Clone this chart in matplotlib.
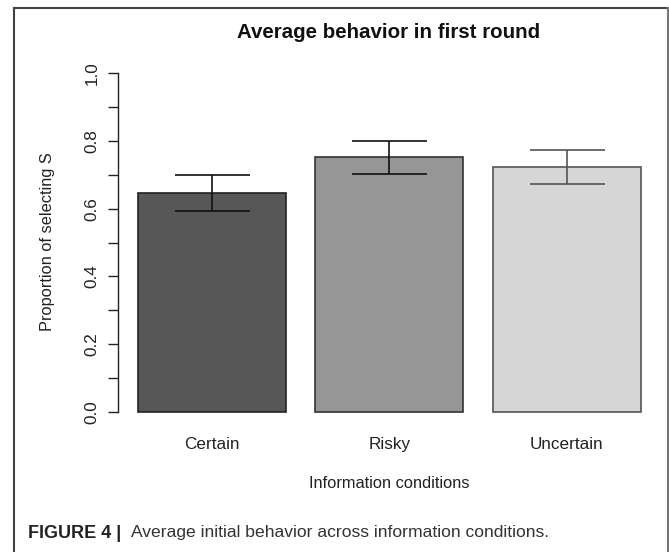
import matplotlib
matplotlib.use("Agg")
import matplotlib.pyplot as plt
from matplotlib.lines import Line2D

plt.rcParams['font.family'] = ['Liberation Sans', 'DejaVu Sans']

conditions = ["Certain", "Risky", "Uncertain"]
means = [0.647, 0.751, 0.724]
lower = [0.594, 0.702, 0.672]
upper = [0.699, 0.798, 0.773]
bar_colors = ["#575757", "#969696", "#d6d6d6"]
edge_colors = ["#222222", "#333333", "#555555"]
err_colors = ["#111111", "#111111", "#555555"]

W, H = 669, 552
fig = plt.figure(figsize=(W / 100, H / 100), dpi=100)

# plot region in pixels (R barplot style)
left_px, right_px, top_px, bot_px = 118, 660.6, 59.4, 425.6
ax = fig.add_axes([left_px / W, 1 - bot_px / H,
                   (right_px - left_px) / W, (bot_px - top_px) / H])

x = [0.7 + 1.2 * i for i in range(len(conditions))]
ax.bar(x, means, width=1.0, color=bar_colors, edgecolor=edge_colors, linewidth=1.2)
for i in range(len(conditions)):
    ax.errorbar(x[i], means[i],
                yerr=[[means[i] - lower[i]], [upper[i] - means[i]]],
                fmt='none', ecolor=err_colors[i], elinewidth=1.2,
                capsize=27, capthick=1.2)

ax.set_xlim(0.064, 3.736)
ax.set_ylim(-0.04, 1.04)
for s in ['top', 'right', 'bottom']:
    ax.spines[s].set_visible(False)
ax.spines['left'].set_bounds(0, 1)
ax.spines['left'].set_linewidth(1.0)
ax.spines['left'].set_color('#222222')

yt = [i / 10 for i in range(11)]
ax.set_yticks(yt)
ax.set_yticklabels(["%.1f" % v if i % 2 == 0 else "" for i, v in enumerate(yt)],
                   rotation=90, va='center', fontsize=12.3, color='#222222')
ax.tick_params(axis='y', length=7.2, width=1.0, color='#222222', pad=6)
ax.set_xticks(x)
ax.set_xticklabels(conditions, fontsize=12.3, color='#222222')
ax.tick_params(axis='x', length=0, pad=8)

fig.text(48 / W, 1 - 242 / H, "Proportion of selecting S", rotation=90,
         fontsize=11.8, color='#222222', ha='center', va='center')
fig.text(389 / W, 1 - 484 / H, "Information conditions",
         fontsize=11.8, color='#222222', ha='center', va='center')
fig.text(389 / W, 1 - 33 / H, "Average behavior in first round", fontsize=14.8,
         fontweight='bold', color='#111111', ha='center', va='center')

# figure frame
fig.add_artist(Line2D([14 / W, 14 / W], [0, 1 - 8 / H], transform=fig.transFigure,
                      color='#444444', linewidth=1.5))
fig.add_artist(Line2D([14 / W, 667.5 / W], [1 - 8 / H, 1 - 8 / H], transform=fig.transFigure,
                      color='#444444', linewidth=1.5))
fig.add_artist(Line2D([667.5 / W, 667.5 / W], [0, 1 - 8 / H], transform=fig.transFigure,
                      color='#777777', linewidth=1.5))

# caption
cap = fig.text(28 / W, 1 - 533 / H, "FIGURE 4 |", fontsize=13, fontweight='bold',
               va='center', ha='left', color='#222222')
fig.canvas.draw()
bb = cap.get_window_extent()
fig.text((bb.x1 + 10) / W, 1 - 533 / H,
         "Average initial behavior across information conditions.",
         fontsize=12.6, va='center', ha='left', color='#333333')

fig.savefig("out.png", dpi=100)
